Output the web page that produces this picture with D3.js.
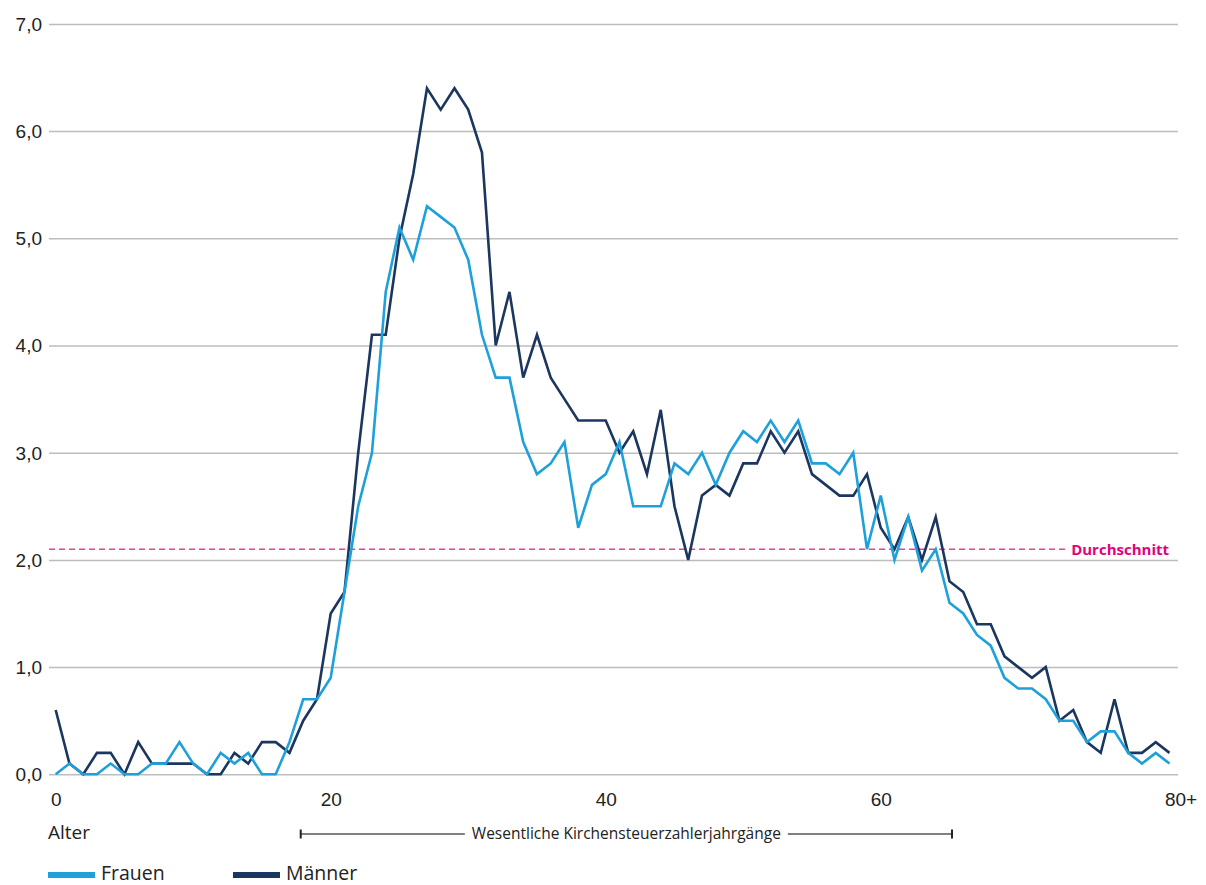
<!DOCTYPE html>
<html lang="de">
<head>
<meta charset="utf-8">
<script src="https://cdn.jsdelivr.net/npm/d3@7"></script>
<style>
  html, body { margin: 0; padding: 0; background: #fff; }
  svg { display: block; font-family: "Open Sans", "Noto Sans", sans-serif; }
</style>
</head>
<body>
<svg id="chart" width="1206" height="885"></svg>
<script>
// Altersjahrgänge 0 … 80+ (letzter Punkt = "80+")
const ages = d3.range(0, 82);

// Anteil je Altersjahr in Prozent
const frauen = [
  0.0, 0.1, 0.0, 0.0, 0.1, 0.0, 0.0, 0.1, 0.1, 0.3,
  0.1, 0.0, 0.2, 0.1, 0.2, 0.0, 0.0, 0.3, 0.7, 0.7,
  0.9, 1.7, 2.5, 3.0, 4.5, 5.1, 4.8, 5.3, 5.2, 5.1,
  4.8, 4.1, 3.7, 3.7, 3.1, 2.8, 2.9, 3.1, 2.3, 2.7,
  2.8, 3.1, 2.5, 2.5, 2.5, 2.9, 2.8, 3.0, 2.7, 3.0,
  3.2, 3.1, 3.3, 3.1, 3.3, 2.9, 2.9, 2.8, 3.0, 2.1,
  2.6, 2.0, 2.4, 1.9, 2.1, 1.6, 1.5, 1.3, 1.2, 0.9,
  0.8, 0.8, 0.7, 0.5, 0.5, 0.3, 0.4, 0.4, 0.2, 0.1,
  0.2, 0.1
];
const maenner = [
  0.6, 0.1, 0.0, 0.2, 0.2, 0.0, 0.3, 0.1, 0.1, 0.1,
  0.1, 0.0, 0.0, 0.2, 0.1, 0.3, 0.3, 0.2, 0.5, 0.7,
  1.5, 1.7, 3.0, 4.1, 4.1, 5.0, 5.6, 6.4, 6.2, 6.4,
  6.2, 5.8, 4.0, 4.5, 3.7, 4.1, 3.7, 3.5, 3.3, 3.3,
  3.3, 3.0, 3.2, 2.8, 3.4, 2.5, 2.0, 2.6, 2.7, 2.6,
  2.9, 2.9, 3.2, 3.0, 3.2, 2.8, 2.7, 2.6, 2.6, 2.8,
  2.3, 2.1, 2.4, 2.0, 2.4, 1.8, 1.7, 1.4, 1.4, 1.1,
  1.0, 0.9, 1.0, 0.5, 0.6, 0.3, 0.2, 0.7, 0.2, 0.2,
  0.3, 0.2
];

const durchschnitt = 2.1;

// Achsenbeschriftungen
const xTickValues = [0, 20, 40, 60, 81];
const xTickLabels = ["0", "20", "40", "60", "80+"];
const yTickValues = [0, 1, 2, 3, 4, 5, 6, 7];

// Spanne der wesentlichen Kirchensteuerzahlerjahrgänge
const kernRange = [18, 65];
const kernLabel = "Wesentliche Kirchensteuerzahlerjahrgänge";

const seriesNames = ["Frauen", "Männer"];
const colors = { Frauen: "#1ea0db", "Männer": "#1b365f" };
const pink = "#e5007e";
const gridColor = "#bdbdbd";
const textColor = "#222";

const svg = d3.select("#chart");

const x = d3.scaleLinear().domain([0, 81]).range([55.7, 1169.5]);
const y = d3.scaleLinear().domain([0, 7]).range([774.3, 23.9]);

const fmt = d3.format(".1f");
const de = v => fmt(v).replace(".", ",");

// Gitterlinien + Y-Beschriftung
const yAxis = d3.axisLeft(y)
  .tickValues(yTickValues)
  .tickSize(-(1178 - 49))
  .tickPadding(7)
  .tickFormat(de);

const gy = svg.append("g")
  .attr("transform", "translate(49,0)")
  .call(yAxis);
gy.select(".domain").remove();
gy.selectAll(".tick line")
  .attr("stroke", gridColor)
  .attr("stroke-width", 1.5);
gy.selectAll(".tick text")
  .attr("fill", textColor)
  .style("font-size", "19px")
  .attr("dy", "0.34em");

// X-Achse (nur Beschriftung)
const xAxis = d3.axisBottom(x)
  .tickValues(xTickValues)
  .tickSize(0)
  .tickPadding(18)
  .tickFormat((d, i) => xTickLabels[i]);

const gx = svg.append("g")
  .attr("transform", `translate(0,${y(0)})`)
  .call(xAxis);
gx.select(".domain").remove();
gx.selectAll(".tick text")
  .attr("fill", textColor)
  .style("font-size", "19px")
  .attr("dx", (d, i) => i === xTickValues.length - 1 ? 11 : 0);

// Durchschnittslinie
svg.append("line")
  .attr("x1", 49).attr("x2", 1066)
  .attr("y1", y(durchschnitt)).attr("y2", y(durchschnitt))
  .attr("stroke", "#ec3f95")
  .attr("stroke-width", 1.6)
  .attr("stroke-dasharray", "6,4");

svg.append("text")
  .attr("x", 1169).attr("y", y(durchschnitt))
  .attr("dy", "0.36em")
  .attr("text-anchor", "end")
  .attr("fill", pink)
  .style("font-size", "15px")
  .style("font-weight", "700")
  .text("Durchschnitt");

// Linien
const line = d3.line()
  .x((d, i) => x(ages[i]))
  .y(d => y(d));

const seriesData = { Frauen: frauen, "Männer": maenner };

["Männer", "Frauen"].forEach(name => {
  svg.append("path")
    .datum(seriesData[name])
    .attr("fill", "none")
    .attr("stroke", colors[name])
    .attr("stroke-width", 2.6)
    .attr("stroke-linejoin", "miter")
    .attr("stroke-miterlimit", 4)
    .attr("d", line);
});

// "Alter"
svg.append("text")
  .attr("x", 48).attr("y", 839)
  .attr("fill", textColor)
  .style("font-size", "19px")
  .text("Alter");

// Klammer für die Kirchensteuerzahlerjahrgänge
const bx1 = x(kernRange[0]) - 2.5;
const bx2 = x(kernRange[1]) + 2.5;
const by = 834;
const g = svg.append("g");
const labelText = g.append("text")
  .attr("x", (bx1 + bx2) / 2).attr("y", by)
  .attr("dy", "0.35em")
  .attr("text-anchor", "middle")
  .attr("fill", textColor)
  .style("font-size", "15.5px")
  .text(kernLabel);
const tw = labelText.node().getComputedTextLength();
const cx = (bx1 + bx2) / 2;
g.append("line").attr("x1", bx1).attr("x2", cx - tw / 2 - 7)
  .attr("y1", by).attr("y2", by).attr("stroke", "#555").attr("stroke-width", 1.5);
g.append("line").attr("x1", cx + tw / 2 + 7).attr("x2", bx2)
  .attr("y1", by).attr("y2", by).attr("stroke", "#555").attr("stroke-width", 1.5);
[bx1, bx2].forEach(bx => {
  g.append("line").attr("x1", bx).attr("x2", bx)
    .attr("y1", by - 4.5).attr("y2", by + 4.5)
    .attr("stroke", "#222").attr("stroke-width", 2);
});

// Legende
const legendX = [48, 233];
seriesNames.forEach((name, i) => {
  svg.append("rect")
    .attr("x", legendX[i]).attr("y", 872)
    .attr("width", 47).attr("height", 6)
    .attr("fill", colors[name]);
  svg.append("text")
    .attr("x", legendX[i] + 53).attr("y", 874)
    .attr("dy", "0.33em")
    .attr("fill", textColor)
    .style("font-size", "19.5px")
    .text(name);
});
</script>
</body>
</html>
